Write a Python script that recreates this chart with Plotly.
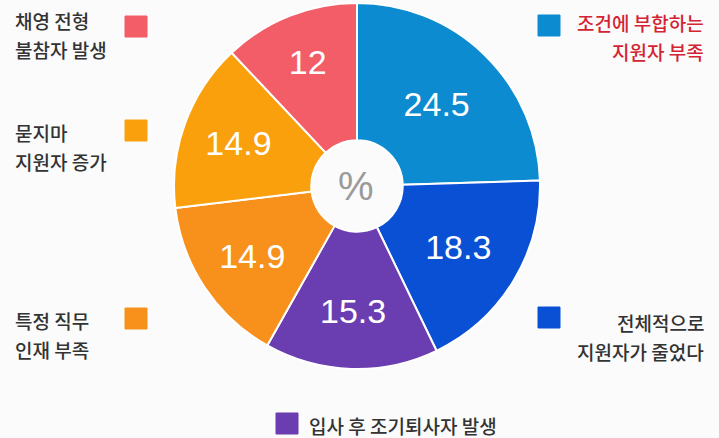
import plotly.graph_objects as go

W, H = 719, 438

# data (clockwise from 12 o'clock)
categories = ["조건에 부합하는 지원자 부족", "전체적으로 지원자가 줄었다", "입사 후 조기퇴사자 발생",
              "특정 직무 인재 부족", "묻지마 지원자 증가", "채영 전형 불참자 발생"]
values = [24.5, 18.3, 15.3, 14.9, 14.9, 12]
value_labels = ["24.5", "18.3", "15.3", "14.9", "14.9", "12"]
colors = ["#0d8bd0", "#0a50d4", "#6a3db0", "#f7911c", "#f9a00c", "#f25d68"]

label_lines = [
    ["조건에 부합하는", "지원자 부족"],
    ["전체적으로", "지원자가 줄었다"],
    ["입사 후 조기퇴사자 발생"],
    ["특정 직무", "인재 부족"],
    ["묻지마", "지원자 증가"],
    ["채영 전형", "불참자 발생"],
]
label_colors = ["#d42434", "#333333", "#333333", "#333333", "#333333", "#333333"]

fig = go.Figure()
fig.add_trace(go.Pie(
    values=values,
    labels=categories,
    text=value_labels,
    textinfo="text",
    sort=False,
    direction="clockwise",
    rotation=0,
    hole=0.25,
    marker=dict(colors=colors, line=dict(color="white", width=2)),
    textfont=dict(family="Liberation Sans, Arial, sans-serif", size=34, color="white"),
    insidetextorientation="horizontal",
    textposition="inside",
    showlegend=False,
    domain=dict(x=[174 / W, 540 / W], y=[(H - 369) / H, (H - 3) / H]),
))

def px(x):
    return x / W

def py(y):
    return 1 - y / H

# square markers (x0, y0) in pixels for each category
squares = [(538, 15), (538, 307), (276, 413), (125, 308), (125, 120), (125, 16)]
shapes = []
for (sx, sy), c in zip(squares, colors):
    shapes.append(dict(type="rect", xref="paper", yref="paper",
                       x0=px(sx), x1=px(sx + 22), y0=py(sy + 21), y1=py(sy),
                       fillcolor=c, line=dict(color=c, width=1)))

# text positions: (anchor x, first line y, align)
text_pos = [(706, 22, "right"), (706, 322, "right"), (307, 425, "left"),
            (13, 320, "left"), (13, 132, "left"), (13, 21, "left")]
annotations = []
for lines, (tx, ty, al), tc in zip(label_lines, text_pos, label_colors):
    for i, line in enumerate(lines):
        annotations.append(dict(
            text=line, xref="paper", yref="paper", x=px(tx), y=py(ty + i * 29),
            xanchor=al, yanchor="middle", showarrow=False,
            font=dict(family="Noto Sans CJK KR", size=19, color=tc, weight=500)))

annotations.append(dict(text="%", xref="paper", yref="paper", x=px(356), y=py(186),
                        xanchor="center", yanchor="middle", showarrow=False,
                        font=dict(family="Liberation Sans, Arial", size=40, color="#9a9a9a")))

fig.update_layout(
    width=W, height=H,
    margin=dict(l=0, r=0, t=0, b=0),
    paper_bgcolor="#fbfbfb",
    plot_bgcolor="#fbfbfb",
    shapes=shapes,
    annotations=annotations,
)

fig.write_html("out.html",
               config={"displayModeBar": False},
               post_script="document.body.style.margin='0';document.body.style.overflow='hidden';")
